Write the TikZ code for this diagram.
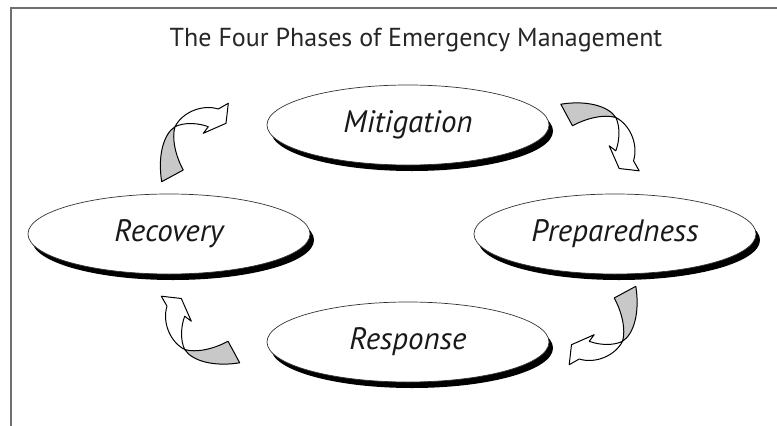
\documentclass[tikz,border=0pt]{standalone}
\usepackage{fontspec}
\setmainfont{PT Sans}
\usetikzlibrary{shapes.geometric,shadows}

\definecolor{framegray}{HTML}{707070}
\definecolor{ribbongray}{HTML}{C8C8C8}

\tikzset{
  phase/.style={ellipse, draw=black!80, line width=0.7pt, fill=white,
    minimum width=282pt, minimum height=80pt, inner sep=0pt,
    font=\fontsize{31}{36}\selectfont\itshape, text=black!90,
    drop shadow={shadow xshift=4pt, shadow yshift=-6pt, fill=black, opacity=1}},
  cyclearrow/.pic={
    % back of the ribbon
    \filldraw[fill=ribbongray, line width=1pt, line join=round]
      (-10.8,5.7) -- (10.8,-6) .. controls (3,-20) and (-1,-38) .. (2.5,-49.3)
      .. controls (-9,-42) and (-15,-20) .. cycle;
    % front of the ribbon with the head
    \filldraw[fill=white, line width=1pt, line join=round]
      (2.5,-49.3) .. controls (10,-64) and (30,-72) .. (45.8,-67)
      -- (55.8,-72.7) -- (53.5,-52.7) -- (30.8,-42.7) -- (35.8,-49.3)
      .. controls (26,-53) and (12,-54) .. cycle;
  }
}

\begin{document}
\begin{tikzpicture}[x=1pt,y=-1pt]
\useasboundingbox (0,0) rectangle (777,426);
\draw[framegray, line width=2pt] (11,426) -- (11,8) -- (777,8);

\node[text=black!85] (title) at (416,40) {\fontsize{26}{31}\selectfont The Four Phases of Emergency Management};

\node[phase] (mit)  at (408,125) {Mitigation};
\node[phase] (prep) at (615,234) {Preparedness};
\node[phase] (resp) at (408,342) {Response};
\node[phase] (rec)  at (169,234) {Recovery};

\pic at (172.5,176) {cyclearrow};
\pic[rotate=-90] at (566.5,115) {cyclearrow};
\pic[rotate=180] at (625,292) {cyclearrow};
\pic[rotate=90] at (234,352) {cyclearrow};

\end{tikzpicture}
\end{document}
